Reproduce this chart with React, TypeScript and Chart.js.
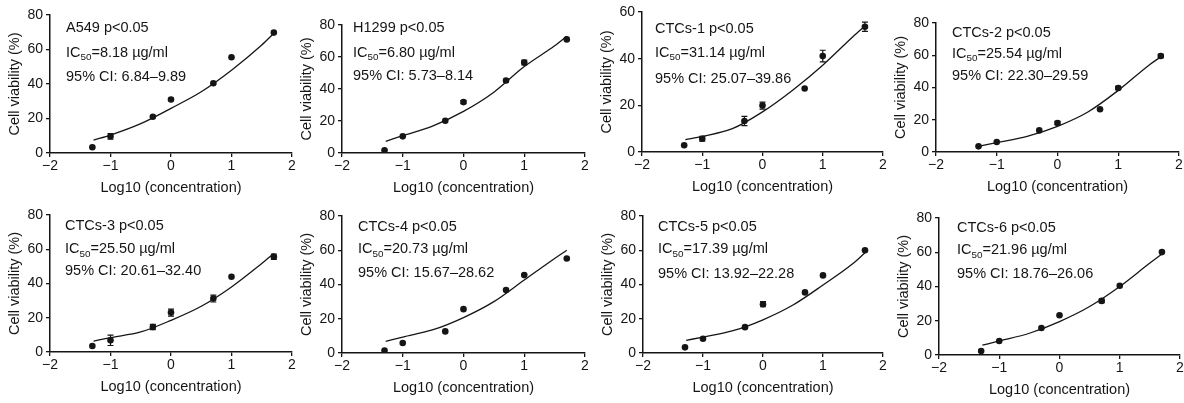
import React, { useEffect, useRef } from 'react';
import { Chart, registerables } from 'chart.js';

Chart.register(...registerables);

// ---------- data ----------
const xValues = [-1.3, -1, -0.3, 0, 0.7, 1, 1.7];
const curveX = [-1.28, -1, -0.5, 0, 0.5, 1, 1.5, 1.7];
const xTicks = [-2, -1, 0, 1, 2];

const panelNames = ['A549', 'H1299', 'CTCs-1', 'CTCs-2', 'CTCs-3', 'CTCs-4', 'CTCs-5', 'CTCs-6'];
const ic50Labels = ['8.18', '6.80', '31.14', '25.54', '25.50', '20.73', '17.39', '21.96'];
const ciLabels = ['6.84–9.89', '5.73–8.14', '25.07–39.86', '22.30–29.59', '20.61–32.40', '15.67–28.62', '13.92–22.28', '18.76–26.06'];
const yMaxes = [80, 80, 60, 80, 80, 80, 80, 80];

const a549Values = [3.3, 9.7, 21, 31, 40.4, 55.5, 69.8];
const a549Errors = [0, 1.6, 0, 0, 0, 0, 0];
const a549Curve = [7.5, 10.4, 17, 25.9, 35.5, 48, 62.6, 69.4];

const h1299Values = [1.7, 10.4, 20.2, 31.8, 45.3, 56.5, 71];
const h1299Errors = [0, 0, 0, 1, 0.8, 1.5, 0];
const h1299Curve = [7.3, 10.8, 17, 26, 38, 54, 67, 73];

const ctc1Values = [2.9, 5.7, 13.3, 19.9, 27.2, 41.1, 53.7];
const ctc1Errors = [0, 1, 2, 1.5, 0, 2.5, 2];
const ctc1Curve = [5.3, 6.7, 10, 17.2, 26.5, 37.2, 49.4, 54];

const ctc2Values = [3.5, 6.2, 13.4, 18, 26.5, 39.7, 59.5];
const ctc2Errors = [0, 0, 0, 1, 0, 1, 1];
const ctc2Curve = [3.7, 5.8, 9.7, 15.9, 24.8, 38.2, 53.7, 59];

const ctc3Values = [3.5, 6.8, 14.6, 23, 31.2, 43.9, 55.6];
const ctc3Errors = [0, 3, 1.5, 2, 2, 0, 1.5];
const ctc3Curve = [6.4, 8.4, 11.7, 18.5, 26.7, 38, 51.7, 57.5];

const ctc4Values = [1.5, 5.8, 12.6, 25.6, 36.8, 45.5, 55.2];
const ctc4Errors = [0, 0, 0, 0, 0, 0, 0];
const ctc4Curve = [6.8, 9.3, 13.6, 20.7, 30, 42.6, 55.2, 60];

const ctc5Values = [3.3, 8.3, 15.1, 28.5, 35.4, 45.3, 60];
const ctc5Errors = [0, 0, 0, 1.5, 0, 0, 0];
const ctc5Curve = [7.4, 9.3, 13, 19.4, 28, 39.7, 52.3, 58.5];

const ctc6Values = [2.3, 8.2, 15.8, 23.2, 31.6, 40.4, 60.1];
const ctc6Errors = [0, 0, 0, 0, 1, 0, 0];
const ctc6Curve = [5.7, 8.2, 12.7, 19.5, 28.3, 40, 53.7, 59];

const seriesValues = [a549Values, h1299Values, ctc1Values, ctc2Values, ctc3Values, ctc4Values, ctc5Values, ctc6Values];
const seriesErrors = [a549Errors, h1299Errors, ctc1Errors, ctc2Errors, ctc3Errors, ctc4Errors, ctc5Errors, ctc6Errors];
const seriesCurves = [a549Curve, h1299Curve, ctc1Curve, ctc2Curve, ctc3Curve, ctc4Curve, ctc5Curve, ctc6Curve];

// ---------- layout (page pixels) ----------
const plotBoxes = [
  { left: 50, right: 292, top: 15, bottom: 153, tx: 66, ty: [27.7, 52.7, 77] },
  { left: 342, right: 585, top: 25, bottom: 153, tx: 353, ty: [27.7, 52.7, 76] },
  { left: 642, right: 883, top: 12, bottom: 152, tx: 655, ty: [29.3, 52.7, 79.3] },
  { left: 936, right: 1179, top: 23, bottom: 152, tx: 952, ty: [32.7, 53.7, 76] },
  { left: 50, right: 292, top: 215, bottom: 352, tx: 65, ty: [226, 249.3, 271] },
  { left: 342, right: 585, top: 216, bottom: 353, tx: 358, ty: [227, 249.3, 272.7] },
  { left: 643, right: 883, top: 216, bottom: 353, tx: 658, ty: [227, 249.3, 274.3] },
  { left: 939, right: 1180, top: 218, bottom: 355, tx: 957, ty: [227.7, 250.3, 274.3] },
];

const YW = 48;
const XH = 48;
const PT = 12;
const PR = 14;
const INK = '#151515';
const FONT = "'Liberation Sans', Arial, Helvetica, sans-serif";

Chart.defaults.font.family = FONT;

function fmt(v: number) {
  return v < 0 ? '\u2212' + Math.abs(v) : String(v);
}

function Panel({ idx }: { idx: number }) {
  const ref = useRef<HTMLCanvasElement | null>(null);
  const box = plotBoxes[idx];
  const w = YW + (box.right - box.left) + PR;
  const h = PT + (box.bottom - box.top) + XH;
  const cl = box.left - YW;
  const ct = box.top - PT;

  useEffect(() => {
    const values = seriesValues[idx];
    const errors = seriesErrors[idx];
    const curve = seriesCurves[idx];
    const yMax = yMaxes[idx];
    const yTicks: number[] = [];
    for (let v = 0; v <= yMax; v += 20) yTicks.push(v);

    const overlay = {
      id: 'overlay' + idx,
      afterDatasetsDraw(chart: any) {
        const { ctx, chartArea } = chart;
        const xs = chart.scales.x;
        const ys = chart.scales.y;
        ctx.save();
        ctx.strokeStyle = INK;
        ctx.lineWidth = 1.2;
        errors.forEach((e: number, i: number) => {
          if (!e) return;
          const px = xs.getPixelForValue(xValues[i]);
          const y1 = ys.getPixelForValue(values[i] - e);
          const y2 = ys.getPixelForValue(values[i] + e);
          ctx.beginPath();
          ctx.moveTo(px, y1);
          ctx.lineTo(px, y2);
          ctx.moveTo(px - 3, y1);
          ctx.lineTo(px + 3, y1);
          ctx.moveTo(px - 3, y2);
          ctx.lineTo(px + 3, y2);
          ctx.stroke();
        });
        // annotation text
        const ox = chartArea.left - box.left;
        const oy = chartArea.top - box.top;
        const x0 = box.tx + ox;
        ctx.fillStyle = INK;
        ctx.textBaseline = 'middle';
        ctx.textAlign = 'left';
        const fs = 14.5;
        ctx.font = `${fs}px ${FONT}`;
        ctx.fillText(`${panelNames[idx]} p<0.05`, x0, box.ty[0] + oy);
        // IC50 line with subscript
        let x = x0;
        const y2 = box.ty[1] + oy;
        ctx.fillText('IC', x, y2);
        x += ctx.measureText('IC').width;
        ctx.font = `${fs * 0.68}px ${FONT}`;
        ctx.fillText('50', x, y2 + 4.5);
        x += ctx.measureText('50').width;
        ctx.font = `${fs}px ${FONT}`;
        ctx.fillText(`=${ic50Labels[idx]} µg/ml`, x, y2);
        ctx.fillText(`95% CI: ${ciLabels[idx]}`, x0, box.ty[2] + oy);
        ctx.restore();
      },
    };

    const chart = new Chart(ref.current as HTMLCanvasElement, {
      type: 'scatter',
      data: {
        datasets: [
          {
            type: 'line',
            data: curveX.map((x, i) => ({ x, y: curve[i] })),
            borderColor: INK,
            borderWidth: 1.3,
            pointRadius: 0,
            fill: false,
            cubicInterpolationMode: 'monotone',
          } as any,
          {
            type: 'scatter',
            data: xValues.map((x, i) => ({ x, y: values[i] })),
            backgroundColor: INK,
            borderWidth: 0,
            pointRadius: 3.3,
          } as any,
        ],
      },
      options: {
        responsive: false,
        animation: false,
        devicePixelRatio: 1,
        layout: { padding: { left: 0, top: PT, right: PR, bottom: 0 } },
        plugins: { legend: { display: false }, tooltip: { enabled: false } },
        scales: {
          x: {
            type: 'linear',
            min: -2,
            max: 2,
            afterBuildTicks: (s: any) => {
              s.ticks = xTicks.map((v) => ({ value: v }));
            },
            afterFit: (s: any) => {
              s.height = XH;
            },
            ticks: {
              callback: (v: any) => fmt(Number(v)),
              font: { size: 14 },
              color: INK,
              padding: 1,
              maxRotation: 0,
              autoSkip: false,
            },
            grid: {
              display: true,
              drawOnChartArea: false,
              drawTicks: true,
              tickLength: 4,
              color: INK,
              lineWidth: 1.3,
            },
            border: { display: true, color: INK, width: 1.5 },
            title: {
              display: true,
              text: 'Log10 (concentration)',
              font: { size: 14.5 },
              color: INK,
              padding: { top: 4, bottom: 4 },
            },
          },
          y: {
            type: 'linear',
            min: 0,
            max: yMax,
            afterBuildTicks: (s: any) => {
              s.ticks = yTicks.map((v) => ({ value: v }));
            },
            afterFit: (s: any) => {
              s.width = YW;
            },
            ticks: {
              callback: (v: any) => fmt(Number(v)),
              font: { size: 14 },
              color: INK,
              padding: 3,
              autoSkip: false,
            },
            grid: {
              display: true,
              drawOnChartArea: false,
              drawTicks: true,
              tickLength: 4,
              color: INK,
              lineWidth: 1.3,
            },
            border: { display: true, color: INK, width: 1.5 },
            title: {
              display: true,
              text: 'Cell viability (%)',
              font: { size: 14.5 },
              color: INK,
              padding: { top: 4, bottom: 4 },
            },
          },
        },
      } as any,
      plugins: [overlay as any],
    });
    return () => chart.destroy();
  }, [idx]);

  return (
    <canvas
      ref={ref}
      width={w}
      height={h}
      style={{ position: 'absolute', left: cl, top: ct, width: w, height: h }}
    />
  );
}

export default function App() {
  return (
    <div
      style={{
        position: 'absolute',
        left: 0,
        top: 0,
        width: 1184,
        height: 403,
        overflow: 'hidden',
        background: '#fff',
      }}
    >
      {plotBoxes.map((_, i) => (
        <Panel key={i} idx={i} />
      ))}
    </div>
  );
}
